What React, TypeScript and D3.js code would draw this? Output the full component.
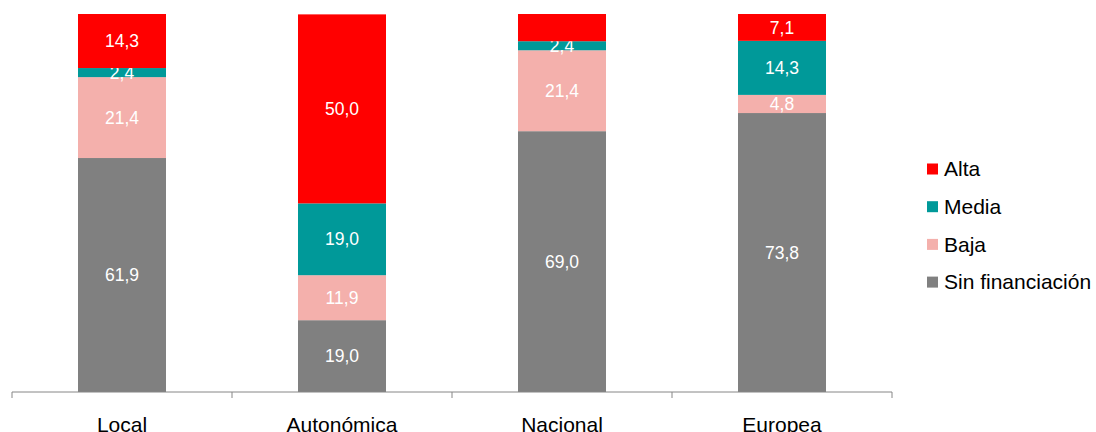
import React from "react";
import * as d3 from "d3";

const categories = ["Local", "Autonómica", "Nacional", "Europea"];
const seriesNames = ["Sin financiación", "Baja", "Media", "Alta"];
const sinFinanciacion = [61.9, 19.0, 69.0, 73.8];
const baja = [21.4, 11.9, 21.4, 4.8];
const media = [2.4, 19.0, 2.4, 14.3];
const alta = [14.3, 50.0, 7.2, 7.1];
const altaLabelShown = [true, true, false, true];
const colors = ["#808080", "#F4B0AC", "#009999", "#FF0000"];
const legendOrder = ["Alta", "Media", "Baja", "Sin financiación"];

export default function App() {
  const width = 1096;
  const height = 432;
  const plotLeft = 12;
  const plotRight = 892;
  const plotTop = 14;
  const plotBottom = 392;

  const x = d3
    .scaleBand<string>()
    .domain(categories)
    .range([plotLeft, plotRight])
    .paddingInner(0.6)
    .paddingOuter(0.3);
  const y = d3.scaleLinear().domain([0, 100]).range([plotBottom, plotTop]);

  const seriesValues = [sinFinanciacion, baja, media, alta];
  const rows = categories.map((c, i) => {
    const r: any = { cat: c };
    seriesNames.forEach((s, k) => (r[s] = seriesValues[k][i]));
    return r;
  });
  const stack = d3.stack<any>().keys(seriesNames);
  const stacked = stack(rows);

  const step = x.step();
  const tickXs = d3.range(categories.length + 1).map((i) => plotLeft + i * step);

  const fmt = (v: number) => v.toFixed(1).replace(".", ",");
  const colorOf = (name: string) => colors[seriesNames.indexOf(name)];

  return (
    <svg
      width={width}
      height={height}
      style={{ position: "absolute", left: 0, top: 0, fontFamily: "'Liberation Sans', Arial, sans-serif" }}
    >
      {stacked.map((layer, k) => (
        <g key={layer.key}>
          {layer.map((d, i) => {
            const y0 = y(d[0]);
            const y1 = y(d[1]);
            const showLabel = !(layer.key === "Alta" && !altaLabelShown[i]);
            return (
              <g key={i}>
                <rect
                  x={x(categories[i])!}
                  y={y1}
                  width={x.bandwidth()}
                  height={y0 - y1}
                  fill={colors[k]}
                />
                {showLabel && (
                  <text
                    x={x(categories[i])! + x.bandwidth() / 2}
                    y={(y0 + y1) / 2}
                    dy="0.35em"
                    textAnchor="middle"
                    fill="#ffffff"
                    fontSize={17.5}
                  >
                    {fmt(d[1] - d[0])}
                  </text>
                )}
              </g>
            );
          })}
        </g>
      ))}
      <line x1={plotLeft} x2={plotRight} y1={plotBottom} y2={plotBottom} stroke="#868686" strokeWidth={1} />
      {tickXs.map((tx, i) => (
        <line key={i} x1={tx} x2={tx} y1={plotBottom} y2={plotBottom + 6} stroke="#868686" strokeWidth={1} />
      ))}
      {categories.map((c) => (
        <text
          key={c}
          x={x(c)! + x.bandwidth() / 2}
          y={432}
          textAnchor="middle"
          fontSize={21}
          fill="#000"
        >
          {c}
        </text>
      ))}
      {legendOrder.map((name, i) => {
        const ly = 169 + i * 37.7;
        return (
          <g key={name}>
            <rect x={927} y={ly - 5.5} width={11} height={11} fill={colorOf(name)} />
            <text x={944} y={ly} dy="0.35em" fontSize={21} fill="#000">
              {name}
            </text>
          </g>
        );
      })}
    </svg>
  );
}
